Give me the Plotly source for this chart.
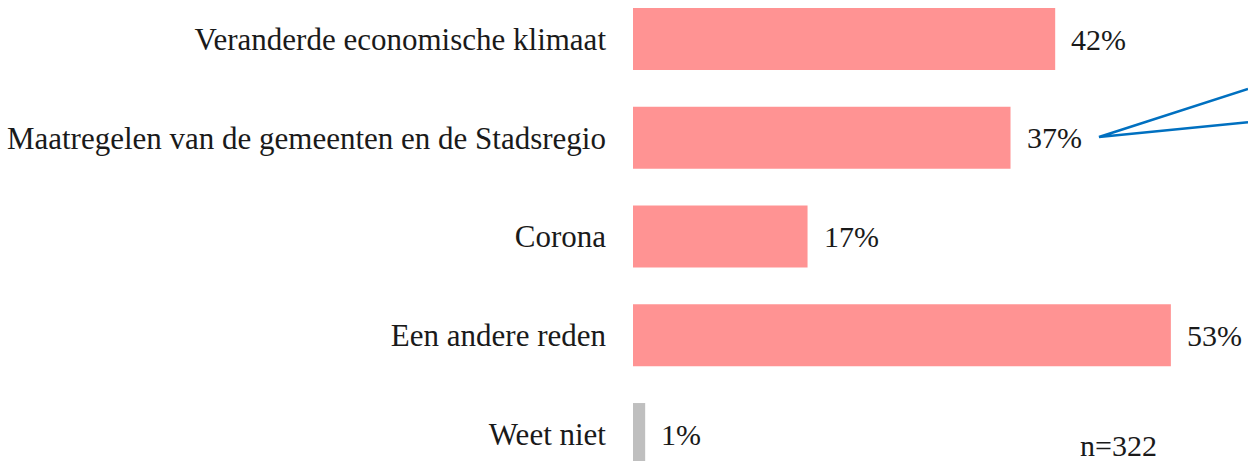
import plotly.graph_objects as go

categories = [
    "Veranderde economische klimaat",
    "Maatregelen van de gemeenten en de Stadsregio",
    "Corona",
    "Een andere reden",
    "Weet niet",
]
values = [41.6, 37.2, 17.2, 53.0, 1.2]
bar_colors = ["#FF9393", "#FF9393", "#FF9393", "#FF9393", "#BFBFBF"]
sample_note = "n=322"

FONT = "Liberation Serif, Times New Roman, serif"
TEXT_COLOR = "#1a1a1a"

fig = go.Figure()
fig.add_trace(
    go.Bar(
        x=values,
        y=categories,
        orientation="h",
        marker=dict(color=bar_colors, line=dict(width=0)),
        width=0.628,
        hoverinfo="skip",
    )
)

for cat, v in zip(categories, values):
    fig.add_annotation(
        x=v, y=cat, xref="x", yref="y",
        text=f"{v:.0f}%", showarrow=False,
        xanchor="left", yanchor="middle", xshift=14,
        font=dict(family=FONT, size=30, color=TEXT_COLOR),
    )

fig.add_annotation(
    x=0.79, y=0.033, xref="paper", yref="paper",
    text=sample_note, showarrow=False,
    xanchor="center", yanchor="middle",
    font=dict(family=FONT, size=30, color=TEXT_COLOR),
)

# callout pointer (decoration)
fig.add_shape(
    type="path", xref="paper", yref="paper",
    path="M 1.0,0.807 L 0.7577,0.7028 L 1.0,0.735",
    line=dict(color="#0070C0", width=2.5),
    fillcolor="rgba(0,0,0,0)",
)

fig.update_layout(
    width=1248, height=461,
    margin=dict(l=633, r=0, t=0, b=0, autoexpand=False),
    paper_bgcolor="white", plot_bgcolor="white",
    showlegend=False,
    xaxis=dict(range=[0, 60.6], visible=False, fixedrange=True),
    yaxis=dict(
        type="category",
        range=[4.273, -0.395],
        showgrid=False, zeroline=False, showline=False,
        ticks="", ticklabelstandoff=26,
        tickfont=dict(family=FONT, size=31, color=TEXT_COLOR),
        fixedrange=True,
    ),
)

fig.write_html(
    "out.html",
    config={"displayModeBar": False},
    post_script="document.body.style.margin='0';document.body.style.overflow='hidden';",
)
